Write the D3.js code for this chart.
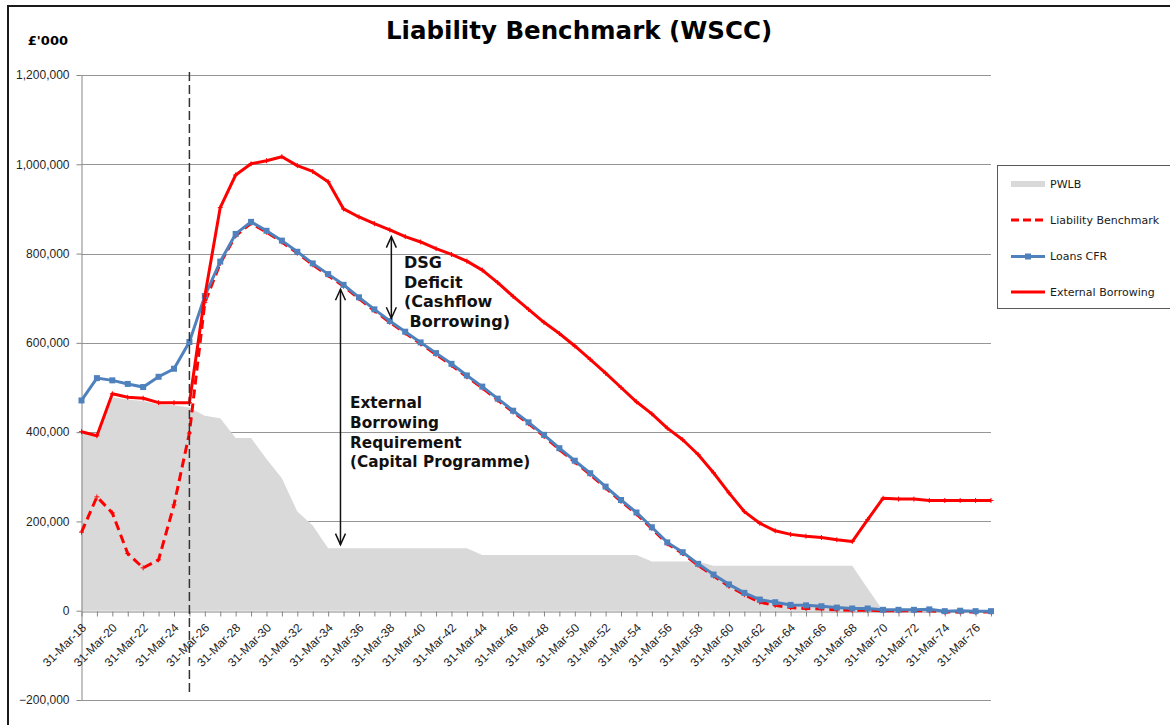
<!DOCTYPE html>
<html>
<head>
<meta charset="utf-8">
<script src="https://cdn.jsdelivr.net/npm/d3@7"></script>
<style>
  body { margin: 0; background: #fff; }
  svg { display: block; font-family: "DejaVu Sans", sans-serif; }
</style>
</head>
<body>
<div id="chart"></div>
<script>
const WIDTH = 1170;
const HEIGHT = 725;

// categories (31 March of each year)
const years = [2018, 2019, 2020, 2021, 2022, 2023, 2024, 2025, 2026, 2027,
               2028, 2029, 2030, 2031, 2032, 2033, 2034, 2035, 2036, 2037,
               2038, 2039, 2040, 2041, 2042, 2043, 2044, 2045, 2046, 2047,
               2048, 2049, 2050, 2051, 2052, 2053, 2054, 2055, 2056, 2057,
               2058, 2059, 2060, 2061, 2062, 2063, 2064, 2065, 2066, 2067,
               2068, 2069, 2070, 2071, 2072, 2073, 2074, 2075, 2076, 2077];
const labelYears = [2018, 2020, 2022, 2024, 2026, 2028, 2030, 2032, 2034, 2036,
                    2038, 2040, 2042, 2044, 2046, 2048, 2050, 2052, 2054, 2056,
                    2058, 2060, 2062, 2064, 2066, 2068, 2070, 2072, 2074, 2076];
const yTicks = [-200000, 0, 200000, 400000, 600000, 800000, 1000000, 1200000];

// series, £'000
const pwlb = [398000, 390000, 478000, 473000, 470000, 462000, 460000, 455000, 437000, 431000,
              387000, 387000, 340000, 297000, 222000, 191000, 140000, 140000, 140000, 140000,
              140000, 140000, 140000, 140000, 140000, 140000, 125000, 125000, 125000, 125000,
              125000, 125000, 125000, 125000, 125000, 125000, 125000, 110000, 110000, 110000,
              110000, 101000, 101000, 101000, 101000, 101000, 101000, 101000, 101000, 101000,
              101000, 50000, 0, 0, 0, 0, 0, 0, 0, 0];
const liabilityBenchmark = [176000, 255000, 219000, 128000, 96000, 114000, 237000, 398000, 690000, 778000,
              840000, 868000, 848000, 826000, 801000, 775000, 751000, 727000, 699000, 672000,
              646000, 622000, 598000, 574000, 550000, 524000, 499000, 472000, 445000, 419000,
              391000, 361000, 333000, 305000, 275000, 245000, 217000, 184000, 150000, 128000,
              102000, 78000, 55000, 36000, 19000, 12000, 7000, 5000, 4000, 2000,
              1000, 1000, 0, 0, 0, 0, -3000, -3000, -3000, -3000];
const loansCFR = [471000, 521000, 516000, 508000, 501000, 524000, 542000, 602000, 705000, 782000,
              844000, 871000, 851000, 829000, 804000, 778000, 754000, 730000, 702000, 675000,
              649000, 625000, 601000, 577000, 553000, 527000, 502000, 475000, 448000, 422000,
              394000, 364000, 336000, 308000, 278000, 248000, 220000, 187000, 153000, 131000,
              105000, 81000, 59000, 40000, 25000, 19000, 13000, 12000, 10000, 7000,
              5000, 5000, 2000, 2000, 2000, 3000, -1000, 0, -1000, -1000];
const externalBorrowing = [401000, 392000, 486000, 478000, 476000, 466000, 466000, 466000, 705000, 903000,
              976000, 1001000, 1008000, 1017000, 997000, 984000, 961000, 900000, 882000, 867000,
              853000, 838000, 826000, 811000, 798000, 783000, 763000, 735000, 704000, 675000,
              646000, 621000, 593000, 563000, 532000, 500000, 468000, 441000, 409000, 383000,
              350000, 309000, 264000, 222000, 196000, 179000, 171000, 167000, 164000, 159000,
              155000, 204000, 252000, 250000, 250000, 247000, 247000, 247000, 247000, 247000];

const seriesNames = ['PWLB', 'Liability Benchmark', 'Loans CFR', 'External Borrowing'];
const forecastStart = 2025;

const svg = d3.select('#chart').append('svg')
  .attr('width', WIDTH)
  .attr('height', HEIGHT);

svg.append('rect').attr('width', WIDTH).attr('height', HEIGHT).attr('fill', '#fff');

// outer chart frame (only top and left edges fall inside the picture)
svg.append('rect')
  .attr('x', 8).attr('y', 6)
  .attr('width', 1300).attr('height', 900)
  .attr('fill', 'none')
  .attr('stroke', '#1a1a1a')
  .attr('stroke-width', 2);

const x = d3.scaleLinear().domain([2018, 2077]).range([81.5, 991]);
const y = d3.scaleLinear().domain([-200000, 1200000]).range([700, 75]);

// gridlines
svg.append('g').selectAll('line')
  .data(yTicks.filter(d => d !== 0))
  .enter().append('line')
  .attr('x1', x(2018)).attr('x2', x(2077))
  .attr('y1', d => Math.round(y(d)) + 0.5).attr('y2', d => Math.round(y(d)) + 0.5)
  .attr('stroke', '#959595');

// PWLB area
svg.append('path')
  .datum(years)
  .attr('fill', '#d9d9d9')
  .attr('d', d3.area()
    .x((d, i) => x(d))
    .y0(y(0))
    .y1((d, i) => y(pwlb[i])));

// axes
const yAxis = d3.axisLeft(y).tickValues(yTicks).tickFormat(d3.format(',')).tickSize(5).tickSizeOuter(0);
const gy = svg.append('g')
  .attr('transform', 'translate(' + x(2018) + ',0)')
  .call(yAxis);
gy.selectAll('path, line').attr('stroke', '#868686');
gy.selectAll('text').attr('fill', '#1f1f1f').style('font-size', '12px').attr('x', -12);

const xAxis = d3.axisBottom(x).tickValues(years).tickSize(5).tickSizeOuter(0)
  .tickFormat(d => labelYears.includes(d) ? '31-Mar-' + String(d).slice(2) : '');
const gx = svg.append('g')
  .attr('transform', 'translate(0,' + (Math.round(y(0)) + 0.5) + ')')
  .call(xAxis);
gx.selectAll('path, line').attr('stroke', '#868686');
gx.selectAll('text')
  .attr('fill', '#1f1f1f')
  .style('font-size', '12px')
  .style('text-anchor', 'end')
  .attr('x', 0).attr('y', 0).attr('dy', '0.35em')
  .attr('transform', 'translate(2,14) rotate(-45)');

// lines
const line = values => d3.line().x((d, i) => x(d)).y((d, i) => y(values[i]))(years);

svg.append('path')
  .attr('d', line(liabilityBenchmark))
  .attr('fill', 'none').attr('stroke', '#ff0000')
  .attr('stroke-width', 3).attr('stroke-dasharray', '9,5');

svg.append('g').selectAll('path')
  .data(years)
  .enter().append('path')
  .attr('d', (d, i) => 'M' + (x(d) - 2.5) + ',' + y(liabilityBenchmark[i]) + 'h5M' + x(d) + ',' + (y(liabilityBenchmark[i]) - 2.5) + 'v5')
  .attr('stroke', '#ff0000').attr('stroke-width', 1);

svg.append('path')
  .attr('d', line(loansCFR))
  .attr('fill', 'none').attr('stroke', '#4f81bd')
  .attr('stroke-width', 3);

svg.append('g').selectAll('rect')
  .data(years)
  .enter().append('rect')
  .attr('x', d => x(d) - 3)
  .attr('y', (d, i) => y(loansCFR[i]) - 3)
  .attr('width', 6).attr('height', 6)
  .attr('fill', '#4f81bd');

svg.append('path')
  .attr('d', line(externalBorrowing))
  .attr('fill', 'none').attr('stroke', '#ff0000')
  .attr('stroke-width', 3).attr('stroke-linejoin', 'round');

svg.append('g').selectAll('path')
  .data(years)
  .enter().append('path')
  .attr('d', (d, i) => 'M' + (x(d) - 2.5) + ',' + y(externalBorrowing[i]) + 'h5M' + x(d) + ',' + (y(externalBorrowing[i]) - 2.5) + 'v5')
  .attr('stroke', '#ff0000').attr('stroke-width', 1);

// forecast start marker
svg.append('line')
  .attr('x1', x(forecastStart)).attr('x2', x(forecastStart))
  .attr('y1', 72).attr('y2', 692)
  .attr('stroke', '#333').attr('stroke-width', 1.5)
  .attr('stroke-dasharray', '9,4');

// annotations
function arrow(xv, top, bottom) {
  const g = svg.append('g').attr('stroke', '#111').attr('stroke-width', 1.5).attr('fill', 'none');
  const xp = x(xv), y1 = y(top), y2 = y(bottom);
  g.append('line').attr('x1', xp).attr('x2', xp).attr('y1', y1).attr('y2', y2);
  g.append('path').attr('d', 'M' + (xp - 5) + ',' + (y2 - 11) + 'L' + xp + ',' + y2 + 'L' + (xp + 5) + ',' + (y2 - 11));
  g.append('path').attr('d', 'M' + (xp - 5) + ',' + (y1 + 11) + 'L' + xp + ',' + y1 + 'L' + (xp + 5) + ',' + (y1 + 11));
}
arrow(2038.1, 838000, 655000);
arrow(2034.8, 720000, 148000);

function block(lines, x0, y0, lh, size) {
  const t = svg.append('text')
    .attr('x', x0).attr('y', y0)
    .style('font-size', size + 'px').style('font-weight', 'bold').attr('fill', '#111');
  lines.forEach((s, i) => t.append('tspan').attr('x', x0).attr('dy', i ? lh : 0).attr('xml:space', 'preserve').text(s));
}
block(['DSG', 'Deficit', '(Cashflow', ' Borrowing)'], 404, 268, 19.5, 16);
block(['External', 'Borrowing', 'Requirement', '(Capital Programme)'], 350, 408, 19.8, 15.3);

// title and unit
svg.append('text')
  .attr('x', 579).attr('y', 39)
  .attr('text-anchor', 'middle')
  .style('font-size', '24.5px').style('font-weight', 'bold')
  .text('Liability Benchmark (WSCC)');

svg.append('text')
  .attr('x', 68).attr('y', 45)
  .attr('text-anchor', 'end')
  .style('font-size', '13px').style('font-weight', 'bold')
  .text("£'000");

// legend
const legend = svg.append('g');
legend.append('rect')
  .attr('x', 997.5).attr('y', 165.5)
  .attr('width', 200).attr('height', 143)
  .attr('fill', '#fff').attr('stroke', '#595959');

const rowY = [184, 220, 256.5, 292];
seriesNames.forEach((name, i) => {
  const g = legend.append('g').attr('transform', 'translate(0,' + rowY[i] + ')');
  if (i === 0) {
    g.append('rect').attr('x', 1011).attr('y', -3).attr('width', 34).attr('height', 6).attr('fill', '#d9d9d9');
  } else {
    g.append('line').attr('x1', 1011).attr('x2', 1045)
      .attr('stroke', i === 2 ? '#4f81bd' : '#ff0000').attr('stroke-width', 3)
      .attr('stroke-dasharray', i === 1 ? '8,4' : null);
    if (i === 2) g.append('rect').attr('x', 1025).attr('y', -3).attr('width', 6).attr('height', 6).attr('fill', '#4f81bd');
  }
  g.append('text')
    .attr('x', 1050).attr('dy', '0.35em')
    .style('font-size', '11px').attr('fill', '#1a1a1a')
    .text(name);
});
</script>
</body>
</html>
